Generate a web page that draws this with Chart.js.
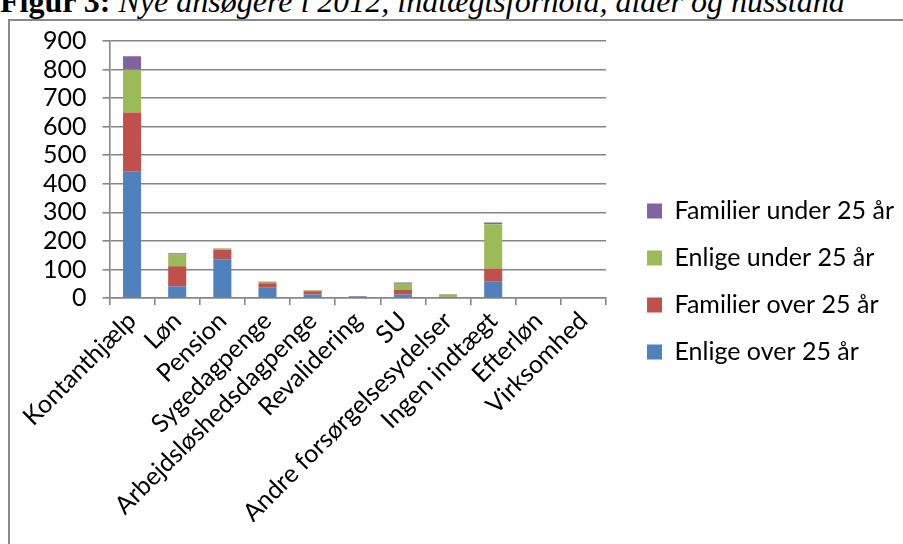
<!DOCTYPE html>
<html lang="da">
<head>
<meta charset="utf-8">
<title>Figur 3</title>
<script src="https://cdn.jsdelivr.net/npm/chart.js@4.4.1/dist/chart.umd.min.js"></script>
<style>
  html, body { margin: 0; padding: 0; background: #fff; overflow: hidden; width: 903px; height: 544px; }
  #titel {
    position: absolute; left: 0; top: -17px; white-space: nowrap;
    font-family: "Liberation Serif", "Times New Roman", serif; font-size: 32px; color: #000;
  }
  #titel b { font-weight: bold; }
  #titel i { font-style: italic; }
  #ramme {
    position: absolute; left: 8px; top: 19px; width: 1000px; height: 1000px;
    border: 2px solid #8a8a8a; box-sizing: border-box;
  }
  #graf { position: absolute; left: 0; top: 0; }
</style>
</head>
<body>
<div id="titel"><b>Figur 3:</b> <i>Nye ansøgere i 2012, indtægtsforhold, alder og husstand</i></div>
<div id="ramme"></div>
<canvas id="graf" width="904" height="564"></canvas>
<script>
// indtægtsgrupper langs x-aksen
const kategorier = ['Kontanthjælp', 'Løn', 'Pension', 'Sygedagpenge', 'Arbejdsløshedsdagpenge',
  'Revalidering', 'SU', 'Andre forsørgelsesydelser', 'Ingen indtægt', 'Efterløn', 'Virksomhed'];

// antal ansøgere pr. gruppe (stablet)
const enligeOver25    = [442, 41, 136, 36, 12, 1, 12, 3, 57, 0, 0];
const familierOver25  = [208, 70, 33, 16, 12, 1, 16, 1, 46, 0, 0];
const enligeUnder25   = [149, 41, 4, 5, 3, 1, 22, 8, 155, 0, 0];
const familierUnder25 = [48, 5, 1, 1, 1, 3, 4, 2, 6, 0, 0];

const yMin = 0;
const yMax = 900;
const yTrin = 100;

const gitterFarve = '#868686';
const skrift = { family: 'Lato, Carlito, Calibri, sans-serif', size: 25 };

const ctx = document.getElementById('graf').getContext('2d');

new Chart(ctx, {
  type: 'bar',
  data: {
    labels: kategorier,
    datasets: [
      { label: 'Enlige over 25 år', data: enligeOver25, backgroundColor: '#4F81BD' },
      { label: 'Familier over 25 år', data: familierOver25, backgroundColor: '#C0504D' },
      { label: 'Enlige under 25 år', data: enligeUnder25, backgroundColor: '#9BBB59' },
      { label: 'Familier under 25 år', data: familierUnder25, backgroundColor: '#8064A2' }
    ]
  },
  options: {
    responsive: false,
    animation: false,
    barPercentage: 0.4,
    categoryPercentage: 1,
    layout: { padding: { top: 41, left: 27, right: 0, bottom: 42 } },
    scales: {
      x: {
        stacked: true,
        grid: { offset: true, drawOnChartArea: false, color: gitterFarve, lineWidth: 1.6, tickLength: 7 },
        border: { color: gitterFarve, width: 1.6 },
        ticks: { color: '#000', font: skrift, maxRotation: 45, minRotation: 45, autoSkip: false, padding: 1 },
        // de skrå etiketter må gerne gå ud over bunden
        afterFit: (akse) => { akse.height = 224; }
      },
      y: {
        stacked: true,
        min: yMin,
        max: yMax,
        grid: { color: gitterFarve, lineWidth: 1.6, tickLength: 7 },
        border: { color: gitterFarve, width: 1.6 },
        ticks: { color: '#000', font: skrift, stepSize: yTrin, autoSkip: false, padding: 16 }
      },
      // tom akse til højre som luft mellem plot og forklaring
      luft: {
        type: 'linear',
        position: 'right',
        display: true,
        grid: { display: false },
        border: { display: false },
        ticks: { display: false },
        afterFit: (akse) => { akse.width = 19; }
      }
    },
    plugins: {
      legend: {
        position: 'right',
        reverse: true,
        maxWidth: 400,
        labels: { color: '#000', font: skrift, boxWidth: 15, boxHeight: 15, padding: 22 }
      },
      tooltip: { enabled: false }
    }
  }
});
</script>
</body>
</html>
